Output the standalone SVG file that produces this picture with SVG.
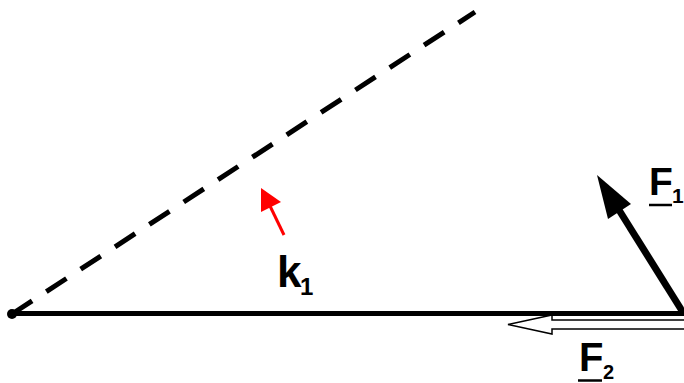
<svg xmlns="http://www.w3.org/2000/svg" width="684" height="383" viewBox="0 0 684 383">
<style>
.lbl{font-family:"Liberation Sans",Arial,sans-serif;font-weight:bold;fill:#000}
</style>
<rect width="684" height="383" fill="#fff"/>
<g id="connectors">
<path id="k1-line" d="M12,314 L475,12" stroke="#000" stroke-width="5" stroke-dasharray="24 17" fill="none"/>
<path id="base-line" d="M12,313.5 L684,313.5" stroke="#000" stroke-width="5" fill="none"/>
<circle cx="12" cy="314" r="5" fill="#000"/>
</g>
<g id="F1">
<path d="M684,314 L619,210" stroke="#000" stroke-width="7" fill="none"/>
<polygon points="597,175 631,204 608,219" fill="#000"/>
<text class="lbl" x="649" y="195" font-size="39">F</text>
<text class="lbl" x="672" y="203" font-size="21">1</text>
<line x1="649" y1="205" x2="672" y2="205" stroke="#000" stroke-width="2.5"/>
</g>
<g id="F2">
<path d="M690,320 L552,320 L552,315 L508,324.5 L552,334 L552,329 L690,329" fill="#fff" stroke="#000" stroke-width="1.5"/>
<text class="lbl" x="579" y="371" font-size="40">F</text>
<text class="lbl" x="603" y="379" font-size="20">2</text>
<line x1="578" y1="380.5" x2="602" y2="380.5" stroke="#000" stroke-width="2.5"/>
</g>
<g id="k1">
<line x1="284" y1="235" x2="270" y2="206" stroke="#f00" stroke-width="3"/>
<polygon points="261,188 281,202 261,212" fill="#f00"/>
<text class="lbl" x="277" y="287" font-size="44">k</text>
<text class="lbl" x="300" y="295" font-size="24">1</text>
</g>
</svg>
